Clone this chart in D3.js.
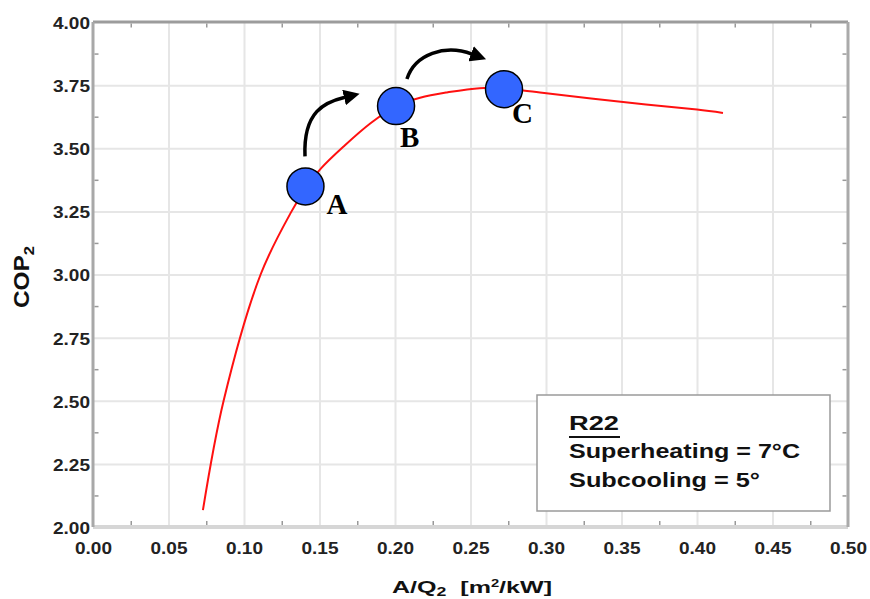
<!DOCTYPE html>
<html>
<head>
<meta charset="utf-8">
<script src="https://cdn.jsdelivr.net/npm/d3@7/dist/d3.min.js"></script>
<style>
  body { margin: 0; background: #fff; }
  svg { display: block; font-family: "Liberation Sans", Arial, sans-serif; }
</style>
</head>
<body>
<div id="chart"></div>
<script>
// COP2 against A/Q2
const areaRatio = [0.0728, 0.0865, 0.1110, 0.1315, 0.1407, 0.1510, 0.1665, 0.1840,
                   0.2007, 0.2166, 0.2344, 0.2560, 0.2722, 0.2848, 0.2960, 0.3510, 0.4000, 0.4172];
const cop = [2.067, 2.50, 3.00, 3.25, 3.34, 3.42, 3.51, 3.60,
             3.667, 3.700, 3.721, 3.738, 3.735, 3.729, 3.721, 3.683, 3.653, 3.640];

// marked operating points
const pointNames = ['A', 'B', 'C'];
const pointX = [0.1407, 0.2007, 0.2722];
const pointY = [3.349, 3.667, 3.734];

// the two curved arrows: start, control 1, control 2, end (data units)
const arrowPaths = [
    [[0.1404, 3.468], [0.1391, 3.647], [0.1536, 3.683], [0.1669, 3.702]],
    [[0.2079, 3.774], [0.2132, 3.873], [0.2331, 3.913], [0.2510, 3.873]]
];

const xTicks = [0.00, 0.05, 0.10, 0.15, 0.20, 0.25, 0.30, 0.35, 0.40, 0.45, 0.50];
const yTicks = [2.00, 2.25, 2.50, 2.75, 3.00, 3.25, 3.50, 3.75, 4.00];
const xMinor = [0.025, 0.075, 0.125, 0.175, 0.225, 0.275, 0.325, 0.375, 0.425, 0.475];
const yMinor = [2.125, 2.375, 2.625, 2.875, 3.125, 3.375, 3.625, 3.875];

const legendLines = ['R22', 'Superheating = 7°C', 'Subcooling = 5°'];

const width = 870, height = 599;
const margin = {top: 22, right: 22, bottom: 72, left: 93};

const x = d3.scaleLinear([0, 0.5], [margin.left, width - margin.right]);
const y = d3.scaleLinear([2, 4], [height - margin.bottom, margin.top]);

const svg = d3.select('#chart')
    .append('svg')
    .attr('width', width)
    .attr('height', height);

svg.append('rect').attr('width', width).attr('height', height).attr('fill', '#fff');

// grid
svg.append('g')
    .attr('transform', `translate(0,${y(2)})`)
    .call(d3.axisBottom(x).tickValues(xTicks.slice(1, -1)).tickSize(-(y(2) - y(4))).tickFormat(''))
    .call(g => g.select('.domain').remove())
    .call(g => g.selectAll('line').attr('stroke', '#e6e6e6').attr('stroke-width', 2));

svg.append('g')
    .attr('transform', `translate(${x(0)},0)`)
    .call(d3.axisLeft(y).tickValues(yTicks.slice(1, -1)).tickSize(-(x(0.5) - x(0))).tickFormat(''))
    .call(g => g.select('.domain').remove())
    .call(g => g.selectAll('line').attr('stroke', '#e6e6e6').attr('stroke-width', 2));

// frame
svg.append('line').attr('x1', x(0)).attr('x2', x(0.5)).attr('y1', y(2)).attr('y2', y(2))
    .attr('stroke', '#d6d6d6').attr('stroke-width', 4);
svg.append('line').attr('x1', x(0)).attr('x2', x(0.5)).attr('y1', y(4)).attr('y2', y(4))
    .attr('stroke', '#9c9c9c').attr('stroke-width', 3);
svg.append('line').attr('x1', x(0)).attr('x2', x(0)).attr('y1', y(4)).attr('y2', y(2))
    .attr('stroke', '#a8a8a8').attr('stroke-width', 3);
svg.append('line').attr('x1', x(0.5)).attr('x2', x(0.5)).attr('y1', y(4)).attr('y2', y(2))
    .attr('stroke', '#aaaaaa').attr('stroke-width', 3);

// minor ticks, pointing inward on all four sides
const minorStyle = g => {
    g.select('.domain').remove();
    g.selectAll('line').attr('stroke', '#999').attr('stroke-width', 1.5);
};
svg.append('g').attr('transform', `translate(0,${y(2) - 2})`)
    .call(d3.axisBottom(x).tickValues(xMinor).tickSize(-4).tickFormat('')).call(minorStyle);
svg.append('g').attr('transform', `translate(0,${y(4) + 1.5})`)
    .call(d3.axisTop(x).tickValues(xMinor).tickSize(-4).tickFormat('')).call(minorStyle);
svg.append('g').attr('transform', `translate(${x(0) + 1.5},0)`)
    .call(d3.axisLeft(y).tickValues(yMinor).tickSize(-4).tickFormat('')).call(minorStyle);
svg.append('g').attr('transform', `translate(${x(0.5) - 1.5},0)`)
    .call(d3.axisRight(y).tickValues(yMinor).tickSize(-4).tickFormat('')).call(minorStyle);

// tick labels
svg.append('g')
    .attr('transform', `translate(0,${y(2)})`)
    .call(d3.axisBottom(x).tickValues(xTicks).tickSize(0).tickFormat(d3.format('.2f')))
    .call(g => g.select('.domain').remove())
    .call(g => g.selectAll('text')
        .attr('y', 15).attr('dy', '0.71em')
        .attr('font-size', 17).attr('font-weight', 'bold').attr('fill', '#222')
        .attr('font-family', '"Liberation Sans", Arial, sans-serif')
        .attr('textLength', 37).attr('lengthAdjust', 'spacingAndGlyphs'));

svg.append('g')
    .attr('transform', `translate(${x(0)},0)`)
    .call(d3.axisLeft(y).tickValues(yTicks).tickSize(0).tickFormat(d3.format('.2f')))
    .call(g => g.select('.domain').remove())
    .call(g => g.selectAll('text')
        .attr('x', -3).attr('dy', '0.38em')
        .attr('font-size', 17).attr('font-weight', 'bold').attr('fill', '#222')
        .attr('font-family', '"Liberation Sans", Arial, sans-serif')
        .attr('textLength', 37).attr('lengthAdjust', 'spacingAndGlyphs'));

// axis titles
const xTitle = svg.append('text')
    .attr('x', 392).attr('y', 593)
    .attr('font-size', 17).attr('font-weight', 'bold').attr('fill', '#111')
    .attr('textLength', 160).attr('lengthAdjust', 'spacingAndGlyphs');
xTitle.append('tspan').text('A/Q');
xTitle.append('tspan').attr('font-size', 12).attr('dy', 3).text('2');
xTitle.append('tspan').attr('dy', -3).text('\u00a0\u00a0[m');
xTitle.append('tspan').attr('font-size', 10).attr('dy', -6).text('2');
xTitle.append('tspan').attr('dy', 6).text('/kW]');

const yTitle = svg.append('text')
    .attr('transform', 'translate(29,308) rotate(-90)')
    .attr('font-size', 22).attr('font-weight', 'bold').attr('fill', '#111')
    .attr('textLength', 62).attr('lengthAdjust', 'spacingAndGlyphs');
yTitle.append('tspan').text('COP');
yTitle.append('tspan').attr('font-size', 15).attr('dy', 5).text('2');

// legend box
const legend = svg.append('g');
legend.append('rect')
    .attr('x', 537).attr('y', 395).attr('width', 293).attr('height', 116)
    .attr('fill', '#fff').attr('stroke', '#9a9a9a').attr('stroke-width', 1.5);
const legendBaselines = [430, 458, 487];
const legendLengths = [50, 231, 191];
legend.selectAll('text.leg')
    .data(legendLines)
    .join('text')
    .attr('class', 'leg')
    .attr('x', 569)
    .attr('y', (d, i) => legendBaselines[i])
    .attr('font-size', 20).attr('font-weight', 'bold').attr('fill', '#111')
    .attr('textLength', (d, i) => legendLengths[i])
    .attr('lengthAdjust', 'spacingAndGlyphs')
    .text(d => d);
legend.append('line')
    .attr('x1', 569).attr('x2', 620).attr('y1', 437).attr('y2', 437)
    .attr('stroke', '#111').attr('stroke-width', 2);

// COP curve
const curve = areaRatio.map((d, i) => [d, cop[i]]);
svg.append('path')
    .datum(curve)
    .attr('fill', 'none')
    .attr('stroke', '#ff1010')
    .attr('stroke-width', 2)
    .attr('d', d3.line().x(d => x(d[0])).y(d => y(d[1])).curve(d3.curveCatmullRom.alpha(0.5)));

// arrows
svg.append('defs').append('marker')
    .attr('id', 'head')
    .attr('viewBox', '0 0 16 16')
    .attr('refX', 1).attr('refY', 8)
    .attr('markerWidth', 16).attr('markerHeight', 16)
    .attr('markerUnits', 'userSpaceOnUse')
    .attr('orient', 'auto')
    .append('path')
    .attr('d', 'M0,0 L16,8 L0,16 Z')
    .attr('fill', '#000');

svg.selectAll('path.arrow')
    .data(arrowPaths)
    .join('path')
    .attr('class', 'arrow')
    .attr('fill', 'none')
    .attr('stroke', '#000')
    .attr('stroke-width', 3.5)
    .attr('marker-end', 'url(#head)')
    .attr('d', p => {
        const path = d3.path();
        path.moveTo(x(p[0][0]), y(p[0][1]));
        path.bezierCurveTo(x(p[1][0]), y(p[1][1]), x(p[2][0]), y(p[2][1]), x(p[3][0]), y(p[3][1]));
        return path.toString();
    });

// points and their letters
const labelOffsets = [[21, 28], [4, 41], [8, 34]];
svg.selectAll('circle.pt')
    .data(pointNames)
    .join('circle')
    .attr('class', 'pt')
    .attr('cx', (d, i) => x(pointX[i]))
    .attr('cy', (d, i) => y(pointY[i]))
    .attr('r', 18.5)
    .attr('fill', '#3366ff')
    .attr('stroke', '#000')
    .attr('stroke-width', 1.5);

svg.selectAll('text.pt')
    .data(pointNames)
    .join('text')
    .attr('class', 'pt')
    .attr('x', (d, i) => x(pointX[i]) + labelOffsets[i][0])
    .attr('y', (d, i) => y(pointY[i]) + labelOffsets[i][1])
    .attr('font-family', '"Liberation Serif", "Times New Roman", serif')
    .attr('font-weight', 'bold')
    .attr('font-size', 29)
    .attr('fill', '#000')
    .text(d => d);
</script>
</body>
</html>
